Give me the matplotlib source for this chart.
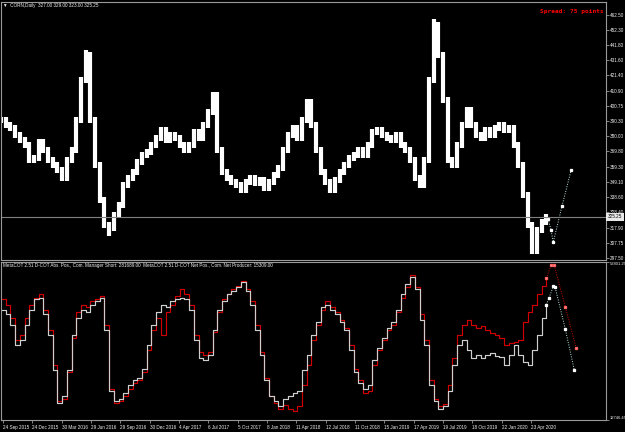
import numpy as np
import matplotlib
matplotlib.use("Agg")
import matplotlib.pyplot as plt
from matplotlib.transforms import blended_transform_factory

# CORN daily, one block every ~2 weeks (high / low of the block)
price_high = [
    393.0, 393.1, 389.7, 387.7, 382.9, 379.5, 376.1, 367.3, 378.1, 378.1,
    372.7, 365.9, 362.5, 359.1, 365.9, 372.7, 393.1, 420.3, 438.5, 437.3,
    393.1, 362.5, 338.7, 321.7, 328.5, 335.3, 348.9, 353.7, 357.7, 364.5,
    369.3, 371.3, 376.1, 380.9, 386.3, 386.3, 382.9, 382.9, 380.9, 376.1,
    376.1, 384.9, 384.9, 389.7, 398.5, 410.1, 410.1, 372.7, 357.7, 353.7,
    350.9, 348.9, 350.9, 353.7, 353.7, 352.3, 352.3, 350.9, 355.7, 360.5,
    372.7, 382.9, 387.7, 387.7, 393.1, 405.3, 405.3, 389.7, 372.7, 357.7,
    350.9, 352.3, 357.7, 362.5, 367.3, 369.3, 372.7, 372.7, 376.1, 384.9,
    386.3, 386.3, 382.9, 380.9, 382.9, 382.9, 376.1, 372.7, 365.9, 353.7,
    365.9, 420.3, 460.0, 458.0, 437.3, 406.7, 365.9, 376.1, 389.7, 399.9,
    399.9, 389.7, 382.9, 386.3, 386.3, 387.7, 389.7, 389.7, 387.7, 387.7,
    376.1, 362.5, 342.1, 321.7, 318.3, 323.7, 327.3,
]
price_low = [
    389.1, 385.7, 383.7, 378.9, 375.5, 372.1, 361.9, 361.9, 363.3, 368.7,
    361.9, 358.5, 355.1, 349.7, 349.7, 361.9, 368.7, 389.1, 416.3, 389.1,
    358.5, 334.7, 317.7, 312.5, 315.7, 324.5, 331.3, 344.9, 349.7, 353.7,
    360.5, 365.3, 367.3, 372.1, 376.9, 375.5, 375.5, 376.9, 372.1, 368.7,
    368.7, 372.1, 376.9, 376.9, 385.7, 394.5, 368.7, 353.7, 349.7, 346.9,
    344.9, 341.5, 341.5, 346.9, 346.3, 346.3, 342.9, 342.9, 346.9, 351.7,
    356.5, 368.7, 378.9, 376.9, 376.9, 389.1, 385.7, 368.7, 353.7, 346.9,
    341.5, 341.5, 348.3, 353.7, 358.5, 363.3, 365.3, 365.3, 365.3, 372.1,
    380.9, 378.9, 376.9, 375.5, 375.5, 372.1, 368.7, 361.9, 349.7, 344.9,
    344.9, 361.9, 416.3, 433.3, 402.7, 361.9, 358.5, 358.5, 372.1, 385.7,
    385.7, 378.9, 376.9, 376.9, 378.9, 378.9, 383.7, 382.3, 382.3, 372.1,
    358.5, 338.1, 317.7, 300.0, 300.0, 314.3, 319.7,
]
last_price = 325.25

# projection drawn after the last bar
proj_bars = [1194, 1200, 1205, 1224, 1244]
proj_price = [323.8, 316.3, 308.1, 332.6, 357.1]

# COT lines (same sampling as the price)
net_producer = [
    40700, 39500, 36900, 31700, 33000, 36900, 40700, 43300, 43800, 39500,
    34300, 25300, 17100, 18900, 25300, 34300, 38700, 40700, 40200, 42000,
    42800, 43800, 35600, 20200, 17600, 18100, 19700, 21500, 22800, 23300,
    25800, 31700, 36900, 40200, 42000, 41300, 42800, 43300, 43800, 43300,
    40700, 33000, 28400, 27900, 29200, 35600, 40700, 42800, 44600, 45400,
    46400, 47700, 45400, 42000, 35600, 29200, 22800, 18900, 17600, 16300,
    18100, 18900, 19700, 20200, 25300, 29200, 34300, 37700, 41300, 42000,
    40700, 39500, 37700, 35600, 30500, 24800, 22200, 20700, 21500, 27900,
    31000, 33500, 36100, 37700, 40700, 44600, 47200, 49000, 45900, 38200,
    31700, 21500, 17600, 15600, 16300, 20200, 26600, 31700, 33000, 30500,
    28400, 29200, 28400, 29200, 29700, 28900, 28700, 26600, 29200, 31700,
    29200, 27400, 26600, 30500, 34300, 38700, 42000,
]
manager_short = [
    43300, 42000, 38700, 33000, 34300, 38700, 42000, 43800, 44600, 40700,
    35600, 26600, 17600, 18100, 24800, 33500, 40200, 42000, 41300, 42800,
    43300, 44300, 36900, 20700, 17100, 17600, 18900, 20700, 22200, 22800,
    24800, 30500, 35600, 38700, 34300, 40200, 42000, 44300, 45900, 44600,
    42000, 34300, 30000, 29200, 30000, 35100, 40200, 43300, 44600, 45900,
    46600, 47900, 45900, 42800, 36900, 30000, 23300, 18900, 17100, 15600,
    16600, 15600, 15100, 16300, 21500, 26600, 33000, 36900, 40700, 42800,
    41300, 40200, 38200, 36100, 31700, 25800, 22800, 19700, 20200, 26600,
    30500, 33000, 35600, 36900, 40200, 43800, 46400, 49500, 46400, 39500,
    33000, 22800, 18100, 16300, 16900, 21500, 28400, 34300, 36900, 38200,
    36900, 36100, 36600, 35600, 34800, 34300, 33500, 31700, 32300, 32500,
    33000, 37700, 40200, 42000, 44600, 46600, 48700,
]
np_proj_bars = [1190, 1196, 1205, 1209, 1231, 1251]
np_proj = [42000, 43800, 46600, 46400, 35900, 25300]
ms_proj_bars = [1190, 1200, 1207, 1231, 1255]
ms_proj = [48700, 52000, 52000, 41500, 31000]

price_ticks = [462.50, 452.30, 441.80, 431.60, 421.40, 410.90, 400.75, 390.30,
               380.00, 369.80, 359.30, 349.10, 338.60, 328.40, 317.90, 307.75, 297.50]
cot_min, cot_max = 12746.45, 52801.25

date_labels = ["24 Sep 2015", "24 Dec 2015", "30 Mar 2016", "29 Jun 2016",
               "29 Sep 2016", "30 Dec 2016", "4 Apr 2017", "6 Jul 2017",
               "5 Oct 2017", "8 Jan 2018", "11 Apr 2018", "12 Jul 2018",
               "11 Oct 2018", "15 Jan 2019", "17 Apr 2019", "19 Jul 2019",
               "18 Oct 2019", "22 Jan 2020", "23 Apr 2020"]

BARS_PER_SAMPLE = 10.26
x = np.arange(len(price_high)) * BARS_PER_SAMPLE
date_pos = [4 + 64 * k for k in range(len(date_labels))]

plt.rcParams["font.family"] = ["Liberation Sans", "DejaVu Sans"]
FS = 3.3
FRAME = "#9a9a9a"
TXT = "#f0f0f0"

fig = plt.figure(figsize=(6.25, 4.32), dpi=100, facecolor="black")
ax1 = fig.add_axes([0.0016, 0.3981, 0.968, 0.5972])
ax2 = fig.add_axes([0.0016, 0.0278, 0.968, 0.3657])

for ax in (ax1, ax2):
    ax.set_facecolor("black")
    for s in ax.spines.values():
        s.set_color(FRAME)
        s.set_linewidth(0.8)
    ax.set_xlim(0, 1320)
    ax.yaxis.tick_right()
    ax.tick_params(axis="y", colors=FRAME, labelcolor=TXT, labelsize=FS,
                   length=2, width=0.6, pad=1, direction="out")

# price panel
ax1.vlines(x, price_low, price_high, colors="white", linewidth=3.0)
ax1.plot(proj_bars, proj_price, color="#bfe6e6", lw=0.7, ls=(0, (1, 1.5)),
         marker="s", ms=1.4, mec="white", mfc="white")
ax1.axhline(last_price, color="#808080", lw=0.8)
ax1.set_ylim(295.9, 471.3)
ax1.set_yticks(price_ticks)
ax1.set_yticklabels(["%.2f" % v for v in price_ticks])
ax1.set_xticks([])
tr = blended_transform_factory(ax1.transAxes, ax1.transData)
ax1.text(1.003, last_price, "%.2f" % last_price, transform=tr, fontsize=FS,
         color="black", va="center", ha="left",
         bbox=dict(boxstyle="square,pad=0.3", fc="#e8e8e8", ec="none"))

# COT panel
ax2.step(x, manager_short, where="post", color="#d00000", lw=0.85)
ax2.step(x, net_producer, where="post", color="#cfcfcf", lw=0.85)
ax2.plot(ms_proj_bars, ms_proj, color="#d00000", lw=0.7, ls=(0, (1, 1.5)),
         marker="s", ms=1.4, mec="#ff6060", mfc="white")
ax2.plot(np_proj_bars, np_proj, color="#bfe6e6", lw=0.7, ls=(0, (1, 1.5)),
         marker="s", ms=1.4, mec="white", mfc="white")
ax2.set_ylim(cot_min, cot_max)
ax2.set_yticks([cot_min, cot_max])
ax2.set_yticklabels(["%.2f" % cot_min, "%.2f" % cot_max])
ax2.tick_params(axis="y", labelsize=3.0, pad=0.6)
ax2.get_yticklabels()[1].set_va("top")
ax2.get_yticklabels()[0].set_va("bottom")
ax2.set_xticks(date_pos)
ax2.set_xticklabels(date_labels)
ax2.tick_params(axis="x", colors=FRAME, labelcolor=TXT, labelsize=FS,
                length=2, width=0.6, pad=1.5, direction="out")
for lbl in ax2.get_xticklabels():
    lbl.set_ha("left")

fig.text(3 / 625, 1 - 5 / 432, "\u25bc  CORN,Daily  327.00 329.00 323.00 325.25",
         fontsize=FS, color=TXT, va="center", ha="left")
fig.text(3 / 625, 1 - 266 / 432,
         "MetaCOT 2.51 D-COT Abs. Pos., Com. Manager Short: 281689.00  "
         "MetaCOT 2.51 D-COT Net Pos., Com. Net Producer: 15309.00",
         fontsize=FS, color=TXT, va="center", ha="left")
fig.text(604 / 625, 1 - 12 / 432, "Spread: 75 points", fontsize=4.4,
         color="#ff0000", family="DejaVu Sans Mono", weight="bold",
         va="center", ha="right")

fig.savefig("out.png", dpi=100, facecolor="black")
